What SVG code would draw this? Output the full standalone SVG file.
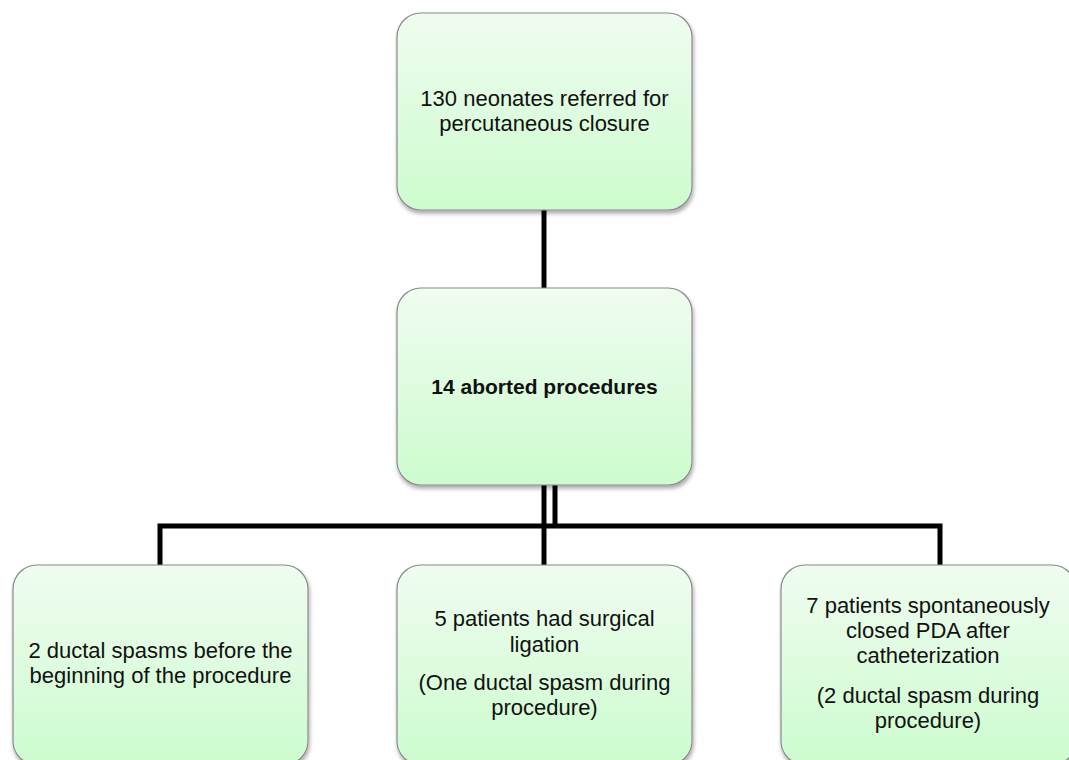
<svg xmlns="http://www.w3.org/2000/svg" width="1069" height="760" viewBox="0 0 1069 760">
<defs>
<linearGradient id="g" x1="0" y1="0" x2="0" y2="1">
<stop offset="0" stop-color="#f0fcf0"/>
<stop offset="1" stop-color="#ccfcce"/>
</linearGradient>
<filter id="sh" x="-10%" y="-10%" width="120%" height="120%">
<feGaussianBlur in="SourceAlpha" stdDeviation="2"/>
<feOffset dx="1" dy="3"/>
<feComponentTransfer><feFuncA type="linear" slope="0.35"/></feComponentTransfer>
<feMerge><feMergeNode/><feMergeNode in="SourceGraphic"/></feMerge>
</filter>
</defs>
<style>
.box{fill:url(#g);stroke:#8a8a8a;stroke-width:1.2;filter:url(#sh)}
.t{font-family:"Liberation Sans",Arial,sans-serif;font-size:22px;fill:#111;text-anchor:middle}
.b{font-weight:bold;font-size:21px}
.c{stroke:#000;stroke-width:5;fill:none}
</style>
<rect width="1069" height="760" fill="#fff"/>
<g id="connectors">
<line class="c" x1="544" y1="208" x2="544" y2="290"/>
<line class="c" x1="544" y1="485" x2="544" y2="567"/>
<line class="c" x1="555" y1="485" x2="555" y2="526"/>
<polyline class="c" points="160,567 160,526 940,526 940,567"/>
</g>
<g id="n1">
<rect class="box" x="397" y="13" width="295" height="197" rx="24"/>
<text class="t" x="544.5" y="106">130 neonates referred for</text>
<text class="t" x="544.5" y="131">percutaneous closure</text>
</g>
<g id="n2">
<rect class="box" x="397" y="288" width="295" height="197" rx="24"/>
<text class="t b" x="544.5" y="394">14 aborted procedures</text>
</g>
<g id="n3">
<rect class="box" x="13" y="565" width="295" height="200" rx="24"/>
<text class="t" x="160.5" y="658">2 ductal spasms before the</text>
<text class="t" x="160.5" y="683">beginning of the procedure</text>
</g>
<g id="n4">
<rect class="box" x="397" y="565" width="295" height="200" rx="24"/>
<text class="t" x="544.5" y="626">5 patients had surgical</text>
<text class="t" x="544.5" y="652">ligation</text>
<text class="t" x="544.5" y="690">(One ductal spasm during</text>
<text class="t" x="544.5" y="715">procedure)</text>
</g>
<g id="n5">
<rect class="box" x="781" y="565" width="295" height="200" rx="24"/>
<text class="t" x="928" y="613">7 patients spontaneously</text>
<text class="t" x="928" y="638">closed PDA after</text>
<text class="t" x="928" y="663">catheterization</text>
<text class="t" x="928" y="703">(2 ductal spasm during</text>
<text class="t" x="928" y="728">procedure)</text>
</g>
</svg>
